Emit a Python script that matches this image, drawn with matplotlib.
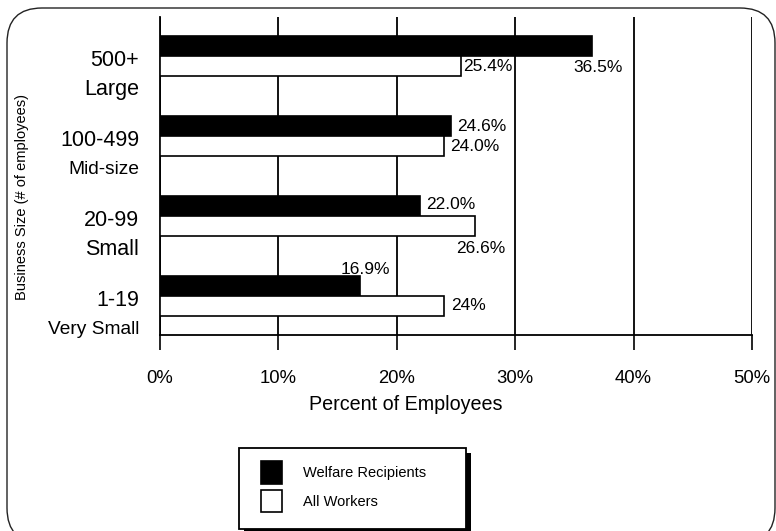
import numpy as np
import matplotlib.pyplot as plt
from matplotlib.patches import FancyBboxPatch, Rectangle, Patch
from matplotlib.transforms import IdentityTransform, blended_transform_factory

plt.rcParams['font.family'] = ['Liberation Sans', 'DejaVu Sans']

sizes = ["500+", "100-499", "20-99", "1-19"]
kinds = ["Large", "Mid-size", "Small", "Very Small"]
welfare = [36.5, 24.6, 22.0, 16.9]
all_workers = [25.4, 24.0, 26.6, 24.0]
welfare_txt = ["36.5%", "24.6%", "22.0%", "16.9%"]
all_txt = ["25.4%", "24.0%", "26.6%", "24%"]
x_ticks = [0, 10, 20, 30, 40, 50]

# label placement: (dx, dy) in points from bar end, horizontal alignment
welfare_pos = [(4, -15.5, "center"), (4, 0, "left"), (4, 1, "left"), (4, 12, "center")]
all_pos = [(2, 0, "left"), (4, 0, "left"), (4, -16, "center"), (5, 0, "left")]
kind_size = [15.5, 13.8, 15.5, 13.8]

W, H = 776, 531
fig = plt.figure(figsize=(W / 100, H / 100), dpi=100)
ax = fig.add_axes([160 / W, 1 - 335 / H, 592 / W, 318 / H])

y = np.arange(len(sizes))[::-1].astype(float)
h = 0.25
ax.barh(y + h / 2, welfare, height=h, color="black", edgecolor="black", lw=1.2, zorder=3)
ax.barh(y - h / 2, all_workers, height=h, color="white", edgecolor="black", lw=1.2, zorder=3)

for yy, v, t, (dx, dy, ha) in zip(y + h / 2, welfare, welfare_txt, welfare_pos):
    ax.annotate(t, (v, yy), xytext=(dx, dy), textcoords="offset points",
                ha=ha, va="center", fontsize=12.5, zorder=4)
for yy, v, t, (dx, dy, ha) in zip(y - h / 2, all_workers, all_txt, all_pos):
    ax.annotate(t, (v, yy), xytext=(dx, dy), textcoords="offset points",
                ha=ha, va="center", fontsize=12.5, zorder=4)

ax.set_xlim(0, 50)
ax.set_ylim(-0.49, 3.49)
ax.set_yticks([])
ax.set_xticks(x_ticks)
ax.set_xticklabels([f"{t}%" for t in x_ticks], fontsize=13.3)
ax.tick_params(axis="x", length=11, width=1.2, pad=14, color="black")
ax.grid(axis="x", color="black", lw=1.3, zorder=0)
ax.spines["top"].set_visible(False)
ax.spines["right"].set_visible(False)
ax.spines["left"].set_linewidth(1.3)
ax.spines["bottom"].set_linewidth(1.3)

# category names on the left, size range above the description
tr = blended_transform_factory(ax.transAxes, ax.transData)
for yy, s, k, fs in zip(y, sizes, kinds, kind_size):
    ax.text(-0.035, yy - 0.06, s, transform=tr, ha="right", va="center", fontsize=15.5)
    ax.text(-0.035, yy - 0.42, k, transform=tr, ha="right", va="center", fontsize=fs)

ax.set_xlabel("Percent of Employees", fontsize=14.2)
ax.xaxis.set_label_coords((406 - 160) / 592, -0.19)
fig.text(22 / W, 1 - 197 / H, "Business Size (# of employees)", rotation=90,
         ha="center", va="center", fontsize=10.5)

# legend box with a solid drop shadow
lx, ltop, lw_, lh = 239, 448, 227, 81
fig.patches.append(Rectangle((lx + 5, H - ltop - lh - 5), lw_, lh, transform=IdentityTransform(),
                             facecolor="black", edgecolor="none", zorder=4))
fig.patches.append(Rectangle((lx, H - ltop - lh), lw_, lh, transform=IdentityTransform(),
                             facecolor="white", edgecolor="black", lw=1.3, zorder=5))
handles = [Patch(facecolor="black", edgecolor="black", lw=1.2),
           Patch(facecolor="white", edgecolor="black", lw=1.2)]
leg = fig.legend(handles, ["Welfare Recipients", "All Workers"],
                 bbox_to_anchor=(261 / W, 1 - 461 / H), loc="upper left",
                 fontsize=10.5, frameon=False, handlelength=1.45, handleheight=2.0,
                 handletextpad=1.45, labelspacing=0.42, borderpad=0, borderaxespad=0)
leg.set_zorder(6)

# rounded page border
fig.patches.append(FancyBboxPatch((7, -12), 768, 535, boxstyle="round,pad=0,rounding_size=35",
                                  transform=IdentityTransform(), facecolor="none",
                                  edgecolor="#222222", lw=1.0, zorder=0))

fig.savefig("out.png", dpi=100)
